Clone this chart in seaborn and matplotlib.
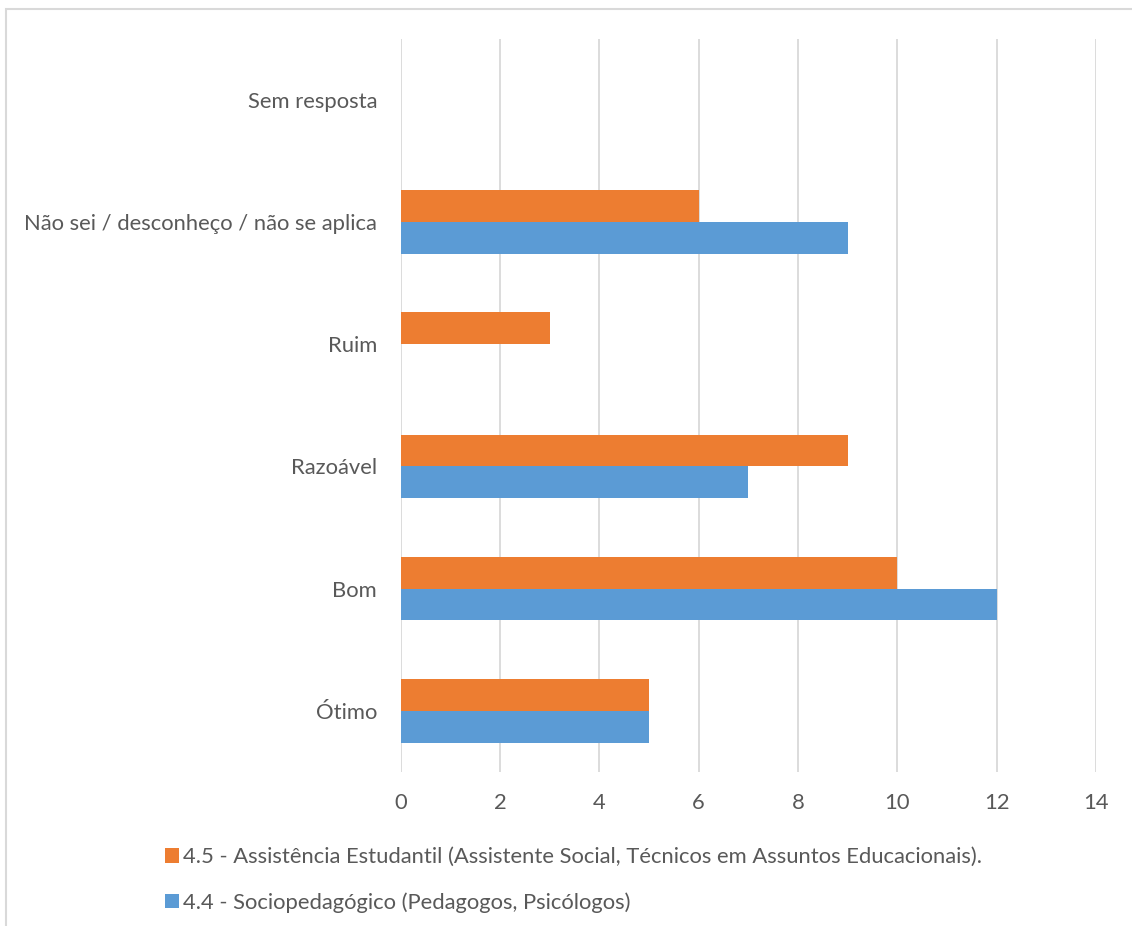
import pandas as pd
import numpy as np
import matplotlib.pyplot as plt
import seaborn as sns
from matplotlib.patches import Rectangle

# categories top to bottom, as in the chart
categories = ['Sem resposta', 'Não sei / desconheço / não se aplica', 'Ruim',
              'Razoável', 'Bom', 'Ótimo']
series_names = ['4.5 - Assistência Estudantil (Assistente Social, Técnicos em Assuntos Educacionais).',
                '4.4 - Sociopedagógico (Pedagogos, Psicólogos)']
assist_vals = [0, 6, 3, 9, 10, 5]
socio_vals = [0, 9, 0, 7, 12, 5]
x_ticks = [0, 2, 4, 6, 8, 10, 12, 14]

df = pd.DataFrame({
    'categoria': categories * 2,
    'valor': assist_vals + socio_vals,
    'serie': [series_names[0]] * len(categories) + [series_names[1]] * len(categories),
})

sns.set_theme(style='white')
plt.rcParams['font.family'] = ['Lato', 'DejaVu Sans']
txt = '#595959'
grid = '#D9D9D9'
fs = 15.8

fig = plt.figure(figsize=(11.32, 9.26), dpi=100)
ax = fig.add_axes([400.7 / 1132, 1 - 772 / 926, (1096 - 400.7) / 1132, (772 - 38.5) / 926])

sns.barplot(data=df, x='valor', y='categoria', hue='serie', order=categories,
            hue_order=series_names, palette=['#ED7D31', '#5B9BD5'],
            orient='h', width=0.52, gap=0, linewidth=0, saturation=1, ax=ax)

ax.set_xlim(0, 14)
ax.set_ylim(5.5, -0.5)
ax.set_xticks(x_ticks)
ax.xaxis.grid(True, color=grid, linewidth=1.3)
ax.set_axisbelow(True)
for s in ax.spines.values():
    s.set_visible(False)
ax.tick_params(axis='both', length=0, labelsize=fs, labelcolor=txt)
ax.tick_params(axis='x', pad=15)
ax.tick_params(axis='y', pad=17)
ax.set_xlabel('')
ax.set_ylabel('')

handles, labels = ax.get_legend_handles_labels()
ax.get_legend().remove()
fig.legend(handles, labels, loc='upper left', bbox_to_anchor=(165 / 1132, 1 - 847 / 926),
           frameon=False, fontsize=fs, labelcolor=txt, handlelength=0.64, handleheight=0.64,
           handletextpad=0.2, labelspacing=1.15, borderpad=0, borderaxespad=0)

# chart-area frame (right and bottom are cut off in the original)
fig.patches.append(Rectangle((6 / 1132, -0.05), 1.2, 1 - 9 / 926 + 0.05, transform=fig.transFigure,
                             fill=False, edgecolor=grid, linewidth=1.5))

fig.savefig('out.png', dpi=100)
